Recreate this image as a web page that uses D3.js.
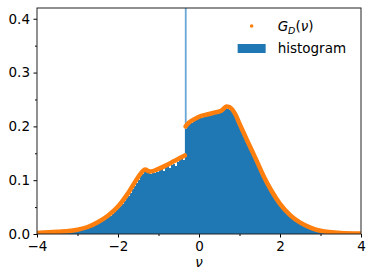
<!DOCTYPE html>
<meta charset="utf-8" />
<style>
  body { margin: 0; background: #fff; }
  svg text { font-family: "DejaVu Sans", sans-serif; font-size: 13.5px; fill: #000; }
  .axis path { display: none; }
  .axis line { stroke: #000; }
</style>
<svg width="374" height="280"></svg>
<script src="https://cdn.jsdelivr.net/npm/d3@7"></script>
<script>
  // histogram: bins of width 0.05 starting at -4
  var binStart = -4, binWidth = 0.05;
  var histValues = [
    0.001,0.001,0.001,0.002,0.002,0.002,0.002,0.002,0.003,0.003,
    0.003,0.003,0.004,0.004,0.004,0.005,0.005,0.006,0.006,0.007,
    0.008,0.008,0.009,0.010,0.011,0.012,0.013,0.015,0.016,0.018,
    0.020,0.022,0.024,0.026,0.029,0.031,0.034,0.037,0.041,0.044,
    0.048,0.052,0.056,0.061,0.066,0.071,0.077,0.083,0.089,0.095,
    0.101,0.107,0.112,0.116,0.118,0.114,0.112,0.113,0.114,0.116,
    0.119,0.121,0.118,0.124,0.126,0.122,0.128,0.130,0.127,0.133,
    0.137,0.140,0.138,0.196,0.204,0.210,0.206,0.214,0.212,0.218,
    0.222,0.216,0.224,0.219,0.225,0.221,0.227,0.223,0.226,0.228,
    0.228,0.230,0.234,0.236,0.233,0.230,0.230,0.224,0.216,0.209,
    0.201,0.191,0.183,0.174,0.166,0.158,0.150,0.142,0.134,0.126,
    0.118,0.110,0.102,0.095,0.088,0.081,0.075,0.069,0.063,0.058,
    0.053,0.049,0.045,0.041,0.037,0.034,0.031,0.028,0.025,0.022,
    0.019,0.017,0.015,0.013,0.011,0.010,0.009,0.008,0.007,0.006,
    0.005,0.004,0.004,0.003,0.003,0.003,0.002,0.002,0.002,0.002,
    0.001,0.001,0.001,0.001,0.001,0.001,0.001,0.001,0.001,0.001
  ];
  // narrow spike bin near nu = -0.34 (goes off the top)
  var spikeNu = [-0.35];
  var spikeHeight = [0.6];
  var spikeWidth = 0.045;

  // G_D(nu) curve, two pieces either side of the jump
  var curveLeftNu = [-4.0,-3.5,-3.0,-2.75,-2.5,-2.25,-2.0,-1.75,-1.5,-1.4,-1.33,-1.25,-1.2,-1.0,-0.8,-0.6,-0.45,-0.35];
  var curveLeftG  = [0.002,0.004,0.008,0.013,0.022,0.034,0.051,0.076,0.106,0.116,0.120,0.117,0.116,0.121,0.128,0.136,0.142,0.146];
  var curveRightNu = [-0.33,-0.25,-0.1,0.0,0.2,0.4,0.55,0.68,0.75,0.9,1.0,1.2,1.4,1.6,1.8,2.0,2.25,2.5,2.75,3.0,3.5,4.0];
  var curveRightG  = [0.200,0.207,0.214,0.218,0.222,0.226,0.229,0.237,0.236,0.222,0.205,0.172,0.140,0.107,0.079,0.056,0.035,0.021,0.012,0.006,0.002,0.001];

  var xMajor = [-4, -2, 0, 2, 4], xMinor = [-3, -1, 1, 3];
  var yMajor = [0, 0.1, 0.2, 0.3, 0.4], yMinor = [0.05, 0.15, 0.25, 0.35];

  var svg = d3.select("svg"),
    margin = { top: 8, right: 13, bottom: 46, left: 37 },
    width = 374 - margin.left - margin.right,
    height = 280 - margin.top - margin.bottom;

  var x = d3.scaleLinear().domain([-4, 4]).range([0, width]),
    y = d3.scaleLinear().domain([0, 0.42]).range([height, 0]);

  svg.append("defs").append("clipPath").attr("id", "clip")
    .append("rect").attr("width", width).attr("height", height);

  var g = svg.append("g")
    .attr("transform", "translate(" + margin.left + "," + margin.top + ")");

  var plot = g.append("g").attr("clip-path", "url(#clip)");

  // spike first so the ordinary bars cover its lower part
  plot.selectAll("rect.spike")
    .data(spikeNu)
    .enter()
    .append("rect")
    .attr("class", "spike")
    .attr("x", function(d) { return x(d); })
    .attr("width", x(spikeWidth) - x(0))
    .attr("y", function(d, i) { return y(spikeHeight[i]); })
    .attr("height", function(d, i) { return y(0) - y(spikeHeight[i]); })
    .attr("fill", "#6aa8d8");

  plot.selectAll("rect.bar")
    .data(histValues)
    .enter()
    .append("rect")
    .attr("class", "bar")
    .attr("x", function(d, i) { return x(binStart + i * binWidth); })
    .attr("width", function(d, i) { return x(binStart + (i + 1) * binWidth) - x(binStart + i * binWidth) + 0.05; })
    .attr("y", function(d) { return y(d); })
    .attr("height", function(d) { return y(0) - y(d); })
    .attr("fill", "#1f77b4")
    .attr("shape-rendering", "crispEdges");

  var line = d3.line()
    .x(function(d) { return x(d[0]); })
    .y(function(d) { return y(d[1]); })
    .curve(d3.curveMonotoneX);

  [[curveLeftNu, curveLeftG], [curveRightNu, curveRightG]].forEach(function(c) {
    plot.append("path")
      .datum(d3.zip(c[0], c[1]))
      .attr("d", line)
      .attr("fill", "none")
      .attr("stroke", "#ff7f0e")
      .attr("stroke-width", 4.5)
      .attr("stroke-linecap", "round")
      .attr("stroke-linejoin", "round");
  });

  // axes
  g.append("g").attr("class", "axis")
    .attr("transform", "translate(0," + height + ")")
    .call(d3.axisBottom(x).tickValues(xMajor).tickSize(3.5).tickPadding(3.5).tickFormat(d3.format("d")));
  g.append("g").attr("class", "axis")
    .attr("transform", "translate(0," + height + ")")
    .call(d3.axisBottom(x).tickValues(xMinor).tickSize(2).tickFormat(""));
  g.append("g").attr("class", "axis")
    .call(d3.axisLeft(y).tickValues(yMajor).tickSize(3.5).tickPadding(3.5).tickFormat(d3.format(".1f")));
  g.append("g").attr("class", "axis")
    .call(d3.axisLeft(y).tickValues(yMinor).tickSize(2).tickFormat(""));
  g.selectAll(".axis text").attr("font-size", null).attr("font-family", null);

  // spines
  g.append("rect")
    .attr("x", 0).attr("y", 0).attr("width", width).attr("height", height)
    .attr("fill", "none").attr("stroke", "#222").attr("stroke-width", 1);

  // axis label
  g.append("text")
    .attr("x", width / 2).attr("y", height + 33)
    .attr("text-anchor", "middle")
    .style("font-style", "italic")
    .text("ν");

  // legend
  var leg = g.append("g").attr("transform", "translate(" + (x(1.3) - 10) + ",0)");
  leg.append("circle").attr("cx", 10).attr("cy", 18).attr("r", 1.8).attr("fill", "#ff7f0e");
  var t = leg.append("text").attr("x", 36).attr("y", 23);
  t.append("tspan").style("font-style", "italic").text("G");
  t.append("tspan").style("font-style", "italic").attr("font-size", "9.5px").attr("dy", 3).text("D");
  t.append("tspan").attr("dy", -3).text("(");
  t.append("tspan").style("font-style", "italic").text("ν");
  t.append("tspan").text(")");
  leg.append("rect").attr("x", -4).attr("y", 36).attr("width", 28).attr("height", 9).attr("fill", "#1f77b4");
  leg.append("text").attr("x", 36).attr("y", 45).text("histogram");
</script>
